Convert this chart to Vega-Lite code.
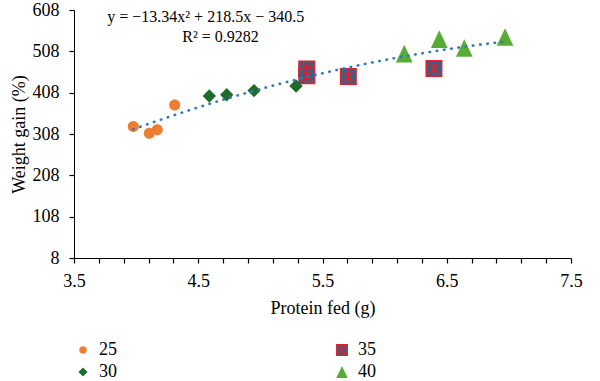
{
  "$schema": "https://vega.github.io/schema/vega-lite/v6.json",
  "width": 497,
  "height": 248,
  "autosize": {"type": "none"},
  "padding": {"left": 74, "top": 10, "right": 29, "bottom": 123},
  "background": "white",
  "config": {"view": {"stroke": null}, "font": "Liberation Serif"},
  "datasets": {
    "points": [
      {"group": "35", "protein": 5.373, "weight": 465},
      {"group": "35", "protein": 5.373, "weight": 449},
      {"group": "35", "protein": 5.708, "weight": 447},
      {"group": "35", "protein": 6.397, "weight": 466.5},
      {"group": "25", "protein": 3.977, "weight": 326},
      {"group": "25", "protein": 4.106, "weight": 310},
      {"group": "25", "protein": 4.170, "weight": 318},
      {"group": "25", "protein": 4.310, "weight": 378},
      {"group": "30", "protein": 4.589, "weight": 400},
      {"group": "30", "protein": 4.729, "weight": 403},
      {"group": "30", "protein": 4.949, "weight": 413},
      {"group": "30", "protein": 5.287, "weight": 424},
      {"group": "40", "protein": 6.158, "weight": 502.5},
      {"group": "40", "protein": 6.440, "weight": 537.6},
      {"group": "40", "protein": 6.641, "weight": 516},
      {"group": "40", "protein": 6.969, "weight": 542.8}
    ],
    "notes": [
      {"protein": 4.56, "weight": 591, "label": "y = −13.34x² + 218.5x − 340.5"},
      {"protein": 4.68, "weight": 542, "label": "R² = 0.9282"}
    ]
  },
  "encoding": {
    "x": {
      "field": "protein", "type": "quantitative", "title": "Protein fed (g)",
      "scale": {"domain": [3.5, 7.5], "nice": false, "zero": false},
      "axis": {
        "values": [3.5, 3.7, 3.9, 4.1, 4.3, 4.5, 4.7, 4.9, 5.1, 5.3, 5.5, 5.7, 5.9, 6.1, 6.3, 6.5, 6.7, 6.9, 7.1, 7.3, 7.5],
        "labelExpr": "abs(datum.value - round(datum.value - 0.5) - 0.5) < 0.01 ? format(datum.value, '.1f') : ''",
        "grid": false,
        "ticks": true, "tickOpacity": 1, "tickSize": 5, "tickColor": "#000000", "tickWidth": 1.2,
        "domainColor": "#000000", "domainWidth": 1,
        "labelFont": "Liberation Serif", "labelFontSize": 18, "labelColor": "#000000",
        "titleFont": "Liberation Serif", "titleFontSize": 18, "titleFontWeight": "normal", "titleColor": "#000000",
        "labelPadding": 9, "titlePadding": 9,
        "labelOverlap": false, "labelFlush": false
      }
    },
    "y": {
      "field": "weight", "type": "quantitative", "title": "Weight gain (%)",
      "scale": {"domain": [8, 608], "nice": false, "zero": false},
      "axis": {
        "values": [8, 108, 208, 308, 408, 508, 608],
        "format": "d",
        "grid": false,
        "ticks": true, "tickOpacity": 1, "tickSize": 5, "tickColor": "#000000", "tickWidth": 1.2,
        "domainColor": "#000000", "domainWidth": 1,
        "labelFont": "Liberation Serif", "labelFontSize": 18, "labelColor": "#000000",
        "titleFont": "Liberation Serif", "titleFontSize": 18, "titleFontWeight": "normal", "titleColor": "#000000",
        "labelPadding": 10, "titlePadding": 4,
        "labelOverlap": false, "labelFlush": false
      }
    }
  },
  "layer": [
    {
      "data": {"name": "points"},
      "mark": {"type": "point", "filled": true, "size": 280, "strokeWidth": 1.6, "opacity": 1, "fillOpacity": 1},
      "encoding": {
        "fill": {
          "field": "group", "type": "nominal",
          "scale": {"domain": ["25", "30", "35", "40"], "range": ["#ED7D31", "#1E6B2C", "#2B668C", "#58AC35"]},
          "legend": {
            "title": null, "orient": "none", "legendX": 0, "legendY": 331,
            "columns": 2, "columnPadding": 216, "rowPadding": 4,
            "symbolSize": 130, "symbolStrokeWidth": 1.4, "labelOffset": 7, "padding": 0,
            "labelFont": "Liberation Serif", "labelFontSize": 18, "labelColor": "#000000",
            "encode": {"symbols": {"update": {"size": {"value": 130}}}}
          }
        },
        "stroke": {
          "field": "group", "type": "nominal",
          "scale": {"domain": ["25", "30", "35", "40"], "range": ["transparent", "transparent", "#E0202C", "transparent"]}
        },
        "shape": {
          "field": "group", "type": "nominal",
          "scale": {"domain": ["25", "30", "35", "40"], "range": [
            "M-0.66,0A0.66,0.66,0,1,1,0.66,0A0.66,0.66,0,1,1,-0.66,0Z",
            "M0,-0.8L0.8,0L0,0.8L-0.8,0Z",
            "M-0.92,-0.92L0.92,-0.92L0.92,0.92L-0.92,0.92Z M-0.58,-0.58L0.58,0.58 M-0.58,0.58L0.58,-0.58 M0,-0.75L0,0.75",
            "M0,-1.05L1,1.05L-1,1.05Z"
          ]}
        }
      }
    },
    {
      "data": {"name": "points"},
      "transform": [{"regression": "weight", "on": "protein", "method": "poly", "order": 2}],
      "mark": {"type": "line", "color": "#2E7BB8", "strokeWidth": 2.6, "strokeDash": [0.5, 6.8], "strokeCap": "round"},
      "encoding": {}
    },
    {
      "data": {"name": "notes"},
      "mark": {"type": "text", "font": "Liberation Serif", "fontSize": 16, "color": "#000000", "align": "center", "baseline": "middle"},
      "encoding": {"text": {"field": "label"}}
    }
  ]
}
